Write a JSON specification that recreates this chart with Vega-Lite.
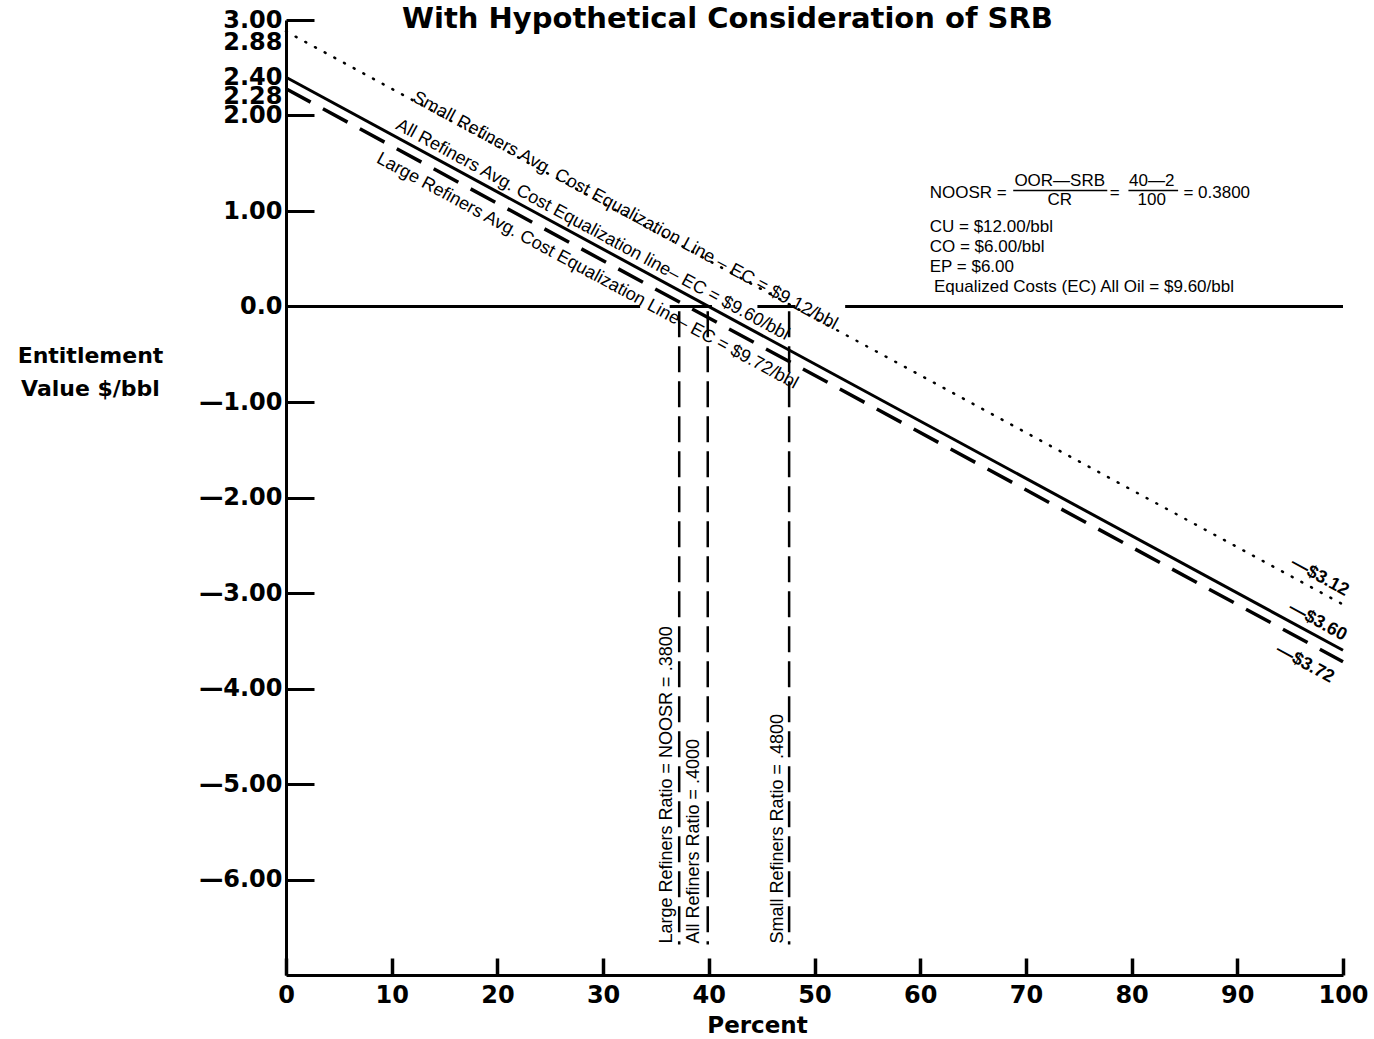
{
  "$schema": "https://vega.github.io/schema/vega-lite/v6.json",
  "autosize": "none",
  "padding": {"left": 286, "top": 20, "right": 31, "bottom": 64},
  "width": 1057,
  "height": 955,
  "background": "white",
  "config": {"view": {"stroke": null}},
  "title": {
    "text": "With Hypothetical Consideration of SRB",
    "font": "DejaVu Sans", "fontSize": 29, "fontWeight": "bold", "color": "black",
    "anchor": "start", "frame": "group", "dx": 116, "offset": -49, "baseline": "alphabetic"
  },
  "datasets": {
    "lines": [
      {"s": "small", "x": 0, "y": 2.88}, {"s": "small", "x": 100, "y": -3.12},
      {"s": "all", "x": 0, "y": 2.4}, {"s": "all", "x": 100, "y": -3.6},
      {"s": "large", "x": 0, "y": 2.28}, {"s": "large", "x": 100, "y": -3.72}
    ],
    "zero": [
      {"x": 0, "x2": 33.5, "y": 0}, {"x": 36.3, "x2": 40.3, "y": 0},
      {"x": 44.6, "x2": 48.2, "y": 0}, {"x": 52.9, "x2": 100, "y": 0}
    ],
    "verticals": [
      {"x": 37.2, "y": -0.05, "y2": -6.68},
      {"x": 39.9, "y": -0.05, "y2": -6.68},
      {"x": 47.6, "y": -0.05, "y2": -6.68}
    ],
    "diag": [
      {"t": "Small Refiners Avg. Cost Equalization Line – EC = $9.12/bbl", "x": 32.07, "y": 1.0},
      {"t": "All Refiners Avg. Cost Equalization line– EC = $9.60/bbl", "x": 29.0, "y": 0.8},
      {"t": "Large Refiners Avg. Cost Equalization Line– EC = $9.72/bbl", "x": 28.5, "y": 0.37}
    ],
    "ends": [
      {"t": "—$3.12", "x": 97.8, "y": -2.83},
      {"t": "—$3.60", "x": 97.6, "y": -3.3},
      {"t": "—$3.72", "x": 96.4, "y": -3.74}
    ],
    "vlabels": [
      {"t": "Large Refiners Ratio = NOOSR = .3800", "x": 36.05, "y": -6.67},
      {"t": "All Refiners Ratio = .4000", "x": 38.6, "y": -6.67},
      {"t": "Small Refiners Ratio = .4800", "x": 46.55, "y": -6.67}
    ],
    "fleft": [
      {"t": "NOOSR =", "x": 60.9, "y": 1.19},
      {"t": "=  0.3800", "x": 84.9, "y": 1.19},
      {"t": "CU = $12.00/bbl", "x": 60.9, "y": 0.83},
      {"t": "CO = $6.00/bbl", "x": 60.9, "y": 0.62},
      {"t": "EP = $6.00", "x": 60.9, "y": 0.41},
      {"t": "Equalized Costs (EC)  All Oil = $9.60/bbl", "x": 61.3, "y": 0.2}
    ],
    "fcenter": [
      {"t": "OOR—SRB", "x": 73.2, "y": 1.31},
      {"t": "CR", "x": 73.2, "y": 1.11},
      {"t": "=", "x": 78.4, "y": 1.19},
      {"t": "40—2", "x": 81.9, "y": 1.31},
      {"t": "100", "x": 81.9, "y": 1.11}
    ],
    "bars": [
      {"x": 68.8, "x2": 77.7, "y": 1.215},
      {"x": 79.7, "x2": 84.4, "y": 1.215}
    ]
  },
  "encoding": {
    "x": {
      "field": "x", "type": "quantitative",
      "scale": {"domain": [0, 100], "nice": false, "zero": false},
      "axis": {
        "values": [0, 10, 20, 30, 40, 50, 60, 70, 80, 90, 100],
        "format": "d", "grid": false,
        "domainColor": "black", "domainWidth": 3,
        "tickColor": "black", "tickWidth": 3.5, "tickSize": -17,
        "labelFont": "DejaVu Sans", "labelFontSize": 24, "labelFontWeight": "bold", "labelColor": "black",
        "labelBaseline": "top", "labelPadding": 25, "labelFlush": false, "labelOverlap": false, "labelBound": false,
        "title": "Percent", "titleFont": "DejaVu Sans", "titleFontSize": 23, "titleFontWeight": "bold", "titleColor": "black",
        "titleX": 471, "titleY": 57, "titleAlign": "center", "titleBaseline": "alphabetic", "titleAnchor": null
      }
    },
    "y": {
      "field": "y", "type": "quantitative",
      "scale": {"domain": [-7, 3], "nice": false, "zero": false},
      "axis": {
        "values": [3, 2.88, 2.4, 2.28, 2, 1, 0, -1, -2, -3, -4, -5, -6],
        "labelExpr": "datum.value < 0 ? '—' + format(-datum.value, '.2f') : (datum.value == 0 ? '0.0' : format(datum.value, '.2f'))",
        "grid": false,
        "domainColor": "black", "domainWidth": 3,
        "tickColor": {"condition": {"test": "datum.value == 2.88 || datum.value == 2.4 || datum.value == 2.28 || datum.value == 0", "value": "transparent"}, "value": "black"},
        "tickWidth": 3, "tickSize": -28,
        "labelFont": "DejaVu Sans", "labelFontSize": 24, "labelFontWeight": "bold", "labelColor": "black",
        "labelPadding": 32, "labelOverlap": false, "labelBound": false, "labelFlush": false,
        "labelOffset": {"condition": [{"test": "datum.value == 2.88", "value": 11}, {"test": "datum.value == 2.28", "value": 8}], "value": 0},
        "title": ["Entitlement", "Value $/bbl"],
        "titleFont": "DejaVu Sans", "titleFontSize": 22, "titleFontWeight": "bold", "titleColor": "black",
        "titleAngle": 0, "titleX": -196, "titleY": 342, "titleAlign": "center", "titleBaseline": "alphabetic", "titleLineHeight": 33
      }
    }
  },
  "layer": [
    {
      "data": {"name": "zero"},
      "mark": {"type": "rule", "color": "black", "strokeWidth": 3},
      "encoding": {"x2": {"field": "x2"}}
    },
    {
      "data": {"name": "lines"},
      "transform": [{"filter": "datum.s == 'small'"}],
      "mark": {"type": "line", "color": "black", "strokeWidth": 2.5, "strokeDash": [1, 10], "strokeCap": "round"},
      "encoding": {}
    },
    {
      "data": {"name": "lines"},
      "transform": [{"filter": "datum.s == 'all'"}],
      "mark": {"type": "line", "color": "black", "strokeWidth": 3},
      "encoding": {}
    },
    {
      "data": {"name": "lines"},
      "transform": [{"filter": "datum.s == 'large'"}],
      "mark": {"type": "line", "color": "black", "strokeWidth": 3.5, "strokeDash": [28, 14]},
      "encoding": {}
    },
    {
      "data": {"name": "verticals"},
      "mark": {"type": "rule", "color": "black", "strokeWidth": 2.5, "strokeDash": [26, 9]},
      "encoding": {"y2": {"field": "y2"}}
    },
    {
      "data": {"name": "bars"},
      "mark": {"type": "rule", "color": "black", "strokeWidth": 1.5},
      "encoding": {"x2": {"field": "x2"}}
    },
    {
      "data": {"name": "diag"},
      "mark": {"type": "text", "font": "Liberation Sans", "fontSize": 18, "angle": 28.5, "align": "center", "baseline": "middle", "color": "black"},
      "encoding": {"text": {"field": "t"}}
    },
    {
      "data": {"name": "ends"},
      "mark": {"type": "text", "font": "Liberation Sans", "fontSize": 18, "fontWeight": "bold", "angle": 28.5, "align": "center", "baseline": "middle", "color": "black"},
      "encoding": {"text": {"field": "t"}}
    },
    {
      "data": {"name": "vlabels"},
      "mark": {"type": "text", "font": "Liberation Sans", "fontSize": 18, "angle": -90, "align": "left", "baseline": "middle", "color": "black"},
      "encoding": {"text": {"field": "t"}}
    },
    {
      "data": {"name": "fleft"},
      "mark": {"type": "text", "font": "Liberation Sans", "fontSize": 17, "align": "left", "baseline": "middle", "color": "black"},
      "encoding": {"text": {"field": "t"}}
    },
    {
      "data": {"name": "fcenter"},
      "mark": {"type": "text", "font": "Liberation Sans", "fontSize": 17, "align": "center", "baseline": "middle", "color": "black"},
      "encoding": {"text": {"field": "t"}}
    }
  ]
}
